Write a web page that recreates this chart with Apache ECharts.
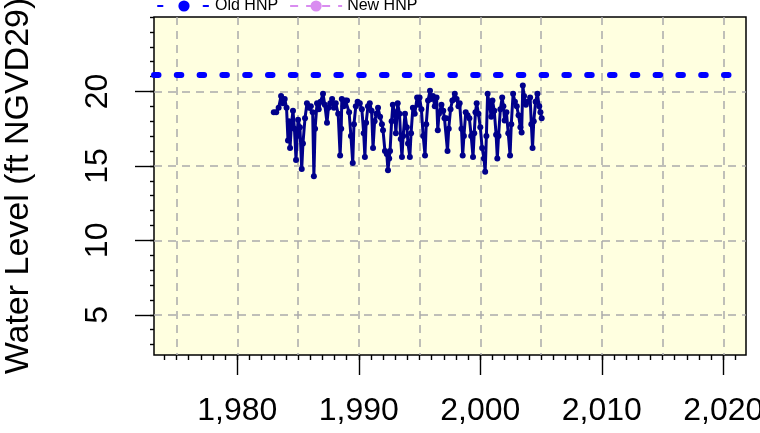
<!DOCTYPE html>
<html>
<head>
<meta charset="utf-8">
<script src="https://cdn.jsdelivr.net/npm/echarts@6/dist/echarts.min.js"></script>
<style>
  html, body { margin: 0; padding: 0; background: #ffffff; }
  #chart { width: 760px; height: 433px; }
</style>
</head>
<body>
<div id="chart"></div>
<script>
// Observation dates (decimal years) and measured water levels (ft NGVD29)
const obsDates = [
  1983.0, 1983.2, 1983.4, 1983.6, 1983.75, 1983.9, 1984.05, 1984.17, 1984.25, 1984.34,
  1984.45, 1984.58, 1984.7, 1984.83, 1984.92, 1985.0, 1985.15, 1985.3, 1985.4, 1985.57,
  1985.73, 1985.9, 1986.05, 1986.2, 1986.3, 1986.4, 1986.56, 1986.7, 1986.85, 1987.05,
  1987.2, 1987.38, 1987.5, 1987.65, 1987.8, 1987.95, 1988.1, 1988.3, 1988.46, 1988.55,
  1988.6, 1988.75, 1988.9, 1989.03, 1989.2, 1989.35, 1989.5, 1989.6, 1989.75, 1989.9,
  1990.08, 1990.25, 1990.4, 1990.5, 1990.6, 1990.75, 1990.9, 1991.05, 1991.17, 1991.3,
  1991.45, 1991.58, 1991.75, 1991.9, 1991.99, 1992.15, 1992.3, 1992.4, 1992.5, 1992.57,
  1992.7, 1992.8, 1992.95, 1993.05, 1993.2, 1993.35, 1993.45, 1993.55, 1993.65, 1993.8,
  1993.95, 1994.05, 1994.2, 1994.3, 1994.45, 1994.6, 1994.8, 1994.9, 1995.0, 1995.15,
  1995.3, 1995.45, 1995.55, 1995.7, 1995.86, 1995.95, 1996.1, 1996.25, 1996.4, 1996.5,
  1996.6, 1996.8, 1996.95, 1997.05, 1997.2, 1997.3, 1997.4, 1997.55, 1997.7, 1997.9,
  1998.05, 1998.2, 1998.3, 1998.45, 1998.55, 1998.65, 1998.8, 1998.95, 1999.1, 1999.25,
  1999.4, 1999.5, 1999.6, 1999.7, 1999.85, 2000.0, 2000.15, 2000.3, 2000.4, 2000.5,
  2000.6, 2000.75, 2000.9, 2001.0, 2001.15, 2001.3, 2001.4, 2001.5, 2001.65, 2001.8,
  2001.9, 2002.0, 2002.15, 2002.3, 2002.45, 2002.55, 2002.7, 2002.85, 2003.0, 2003.15,
  2003.3, 2003.4, 2003.5, 2003.6, 2003.75, 2003.9, 2004.1, 2004.2, 2004.3, 2004.4,
  2004.55, 2004.7, 2004.85, 2004.95, 2005.05
];
const obsLevels = [
  18.6, 18.6, 18.9, 19.7, 19.2, 19.5, 18.9, 16.7, 18.0, 16.2,
  17.8, 18.7, 17.5, 15.4, 17.0, 18.1, 17.6, 14.8, 16.5, 18.2,
  19.2, 18.9, 19.0, 18.6, 14.3, 17.5, 19.2, 18.8, 19.3, 19.85,
  19.1, 17.9, 18.9, 19.2, 19.5, 18.9, 19.2, 18.5, 15.7, 17.5,
  19.5, 19.0, 19.4, 19.4, 18.6, 17.0, 15.2, 17.8, 19.0, 19.3,
  19.2, 18.8, 17.2, 15.6, 17.9, 19.0, 19.2, 18.7, 16.2, 18.0,
  18.5, 18.9, 18.3, 17.8, 17.4, 16.0, 15.8, 14.7, 15.5, 16.0,
  18.0, 19.1, 18.6, 17.2, 19.2, 18.5, 16.8, 15.6, 17.0, 18.5,
  17.6, 16.5, 15.6, 17.2, 18.9, 18.5, 19.6, 19.1, 19.6, 18.8,
  17.0, 15.7, 17.8, 19.4, 20.05, 19.5, 19.7, 19.0, 19.6, 17.4,
  18.5, 19.1, 18.7, 18.2, 18.2, 16.0, 17.5, 18.8, 19.4, 19.85,
  19.5, 19.0, 19.2, 17.5, 15.7, 17.0, 18.6, 18.4, 18.2, 17.0,
  15.6, 17.2, 18.6, 19.2, 18.5, 17.6, 16.2, 15.5, 14.6, 17.0,
  19.85, 19.1, 18.3, 19.4, 18.7, 17.1, 15.5, 17.0, 18.8, 19.6,
  19.0, 18.05, 18.6, 17.2, 15.7, 17.8, 19.85, 19.3, 19.0, 18.4,
  17.6, 17.25, 20.4, 19.7, 19.1, 19.3, 19.6, 17.8, 16.2, 18.0,
  19.3, 19.85, 19.0, 18.6, 18.2
];

// Reference levels
const oldHnpLevel = 21.1;

// Axis ticks and labels
const yearLabels = [1980, 1990, 2000, 2010, 2020];
const gridYears = [1975, 1980, 1985, 1990, 1995, 2000, 2005, 2010, 2015, 2020];
const levelLabels = [5, 10, 15, 20];

const X_MIN = 1973.14, X_MAX = 2021.87;
const Y_MIN = 2.3, Y_MAX = 25.0;

const everyYear = [];
for (let y = Math.ceil(X_MIN); y <= Math.floor(X_MAX); y++) everyYear.push(y);
const everyUnit = [];
for (let v = Math.ceil(Y_MIN); v <= Math.floor(Y_MAX); v++) everyUnit.push(v);

const FONT = 'Liberation Sans, Arial, sans-serif';
const gridLine = { color: '#AAAAAA', width: 1.5, type: [8, 6] };
const tickLine = { color: '#000000', width: 1.4 };

const chart = echarts.init(document.getElementById('chart'), null, { renderer: 'canvas' });

chart.setOption({
  animation: false,
  backgroundColor: '#ffffff',
  textStyle: { fontFamily: FONT },
  legend: {
    left: 152,
    top: -7,
    itemWidth: 52,
    itemHeight: 14,
    itemGap: 11,
    textStyle: { fontSize: 16, color: '#000000', fontFamily: FONT },
    data: ['Old HNP', 'New HNP']
  },
  grid: {
    left: 154, right: 14, top: 17, bottom: 78,
    outerBoundsMode: 'none',
    show: true,
    backgroundColor: '#FFFFE0',
    borderColor: '#000000',
    borderWidth: 1.5
  },
  xAxis: [
    { // dashed grid every five years
      type: 'value', min: X_MIN, max: X_MAX, position: 'bottom',
      axisLine: { show: false },
      axisLabel: { show: false },
      axisTick: { show: false, customValues: gridYears },
      splitLine: { show: true, lineStyle: gridLine }
    },
    { // yearly minor ticks
      type: 'value', min: X_MIN, max: X_MAX, position: 'bottom',
      axisLine: { show: false },
      axisLabel: { show: false },
      axisTick: { show: true, length: 5, customValues: everyYear, lineStyle: tickLine },
      splitLine: { show: false }
    },
    { // decade ticks with labels
      type: 'value', min: X_MIN, max: X_MAX, position: 'bottom',
      axisLine: { show: false },
      axisTick: { show: true, length: 20, customValues: yearLabels, lineStyle: tickLine },
      axisLabel: { show: true, customValues: yearLabels, fontSize: 32, margin: 40,
                   color: '#000000', fontFamily: FONT },
      splitLine: { show: false }
    }
  ],
  yAxis: [
    {
      type: 'value', min: Y_MIN, max: Y_MAX, position: 'left',
      axisLine: { show: false },
      axisTick: { show: true, length: 19, customValues: levelLabels, lineStyle: tickLine },
      axisLabel: { show: true, customValues: levelLabels, rotate: 90, fontSize: 32, margin: 40,
                   color: '#000000', fontFamily: FONT },
      splitLine: { show: true, lineStyle: gridLine },
      name: 'Water Level (ft NGVD29)',
      nameLocation: 'middle',
      nameRotate: 90,
      nameGap: 118,
      nameTextStyle: { fontSize: 34, color: '#000000', fontFamily: FONT }
    },
    {
      type: 'value', min: Y_MIN, max: Y_MAX, position: 'left',
      axisLine: { show: false },
      axisLabel: { show: false },
      axisTick: { show: true, length: 4, customValues: everyUnit, lineStyle: tickLine },
      splitLine: { show: false }
    }
  ],
  series: [
    {
      name: 'Old HNP',
      type: 'line',
      xAxisIndex: 0, yAxisIndex: 0,
      symbol: 'none',
      color: '#0000FF',
      lineStyle: { color: '#0000FF', width: 6, type: [4.5, 18.3], cap: 'round' },
      data: [[X_MIN, oldHnpLevel], [X_MAX, oldHnpLevel]],
      z: 3
    },
    {
      name: 'New HNP',
      type: 'line',
      xAxisIndex: 0, yAxisIndex: 0,
      symbol: 'none',
      color: '#D98CF0',
      lineStyle: { color: '#D98CF0', width: 4, type: [8, 8] },
      data: []
    },
    {
      name: 'Water Level',
      type: 'line',
      xAxisIndex: 0, yAxisIndex: 0,
      symbol: 'circle',
      symbolSize: 6,
      color: '#00008B',
      itemStyle: { color: '#00008B' },
      lineStyle: { color: '#00008B', width: 3 },
      data: obsDates.map((d, i) => [d, obsLevels[i]]),
      z: 4
    }
  ]
});
</script>
</body>
</html>
